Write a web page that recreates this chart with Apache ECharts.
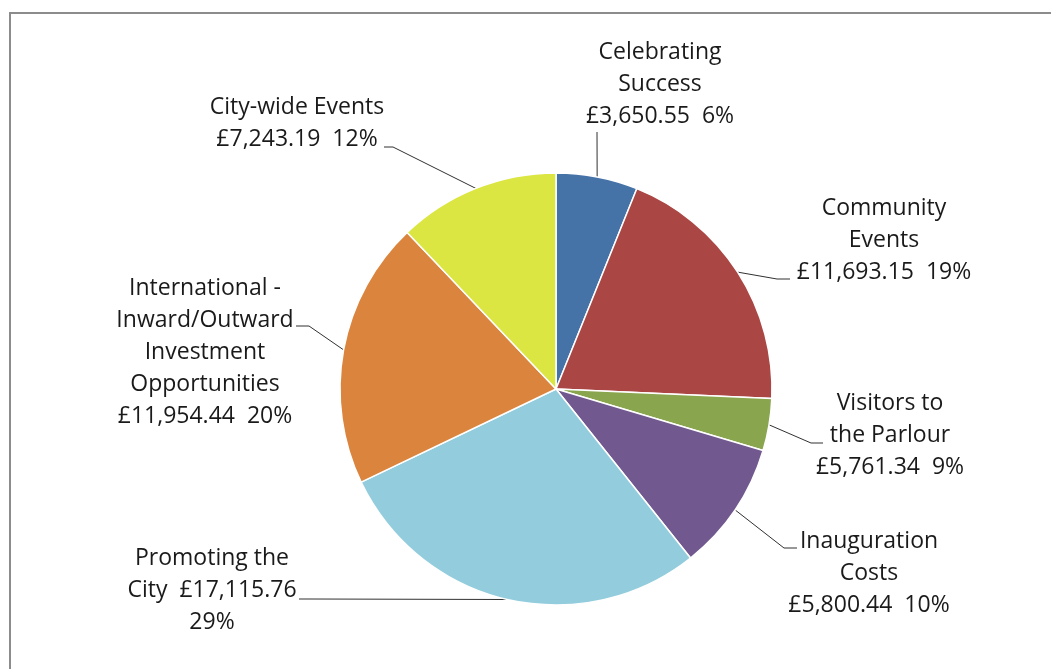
<!DOCTYPE html>
<html>
<head>
<meta charset="utf-8">
<script src="https://cdn.jsdelivr.net/npm/echarts@6/dist/echarts.min.js"></script>
<style>
  html, body { margin: 0; padding: 0; background: #fff; overflow: hidden; }
  #frame {
    position: absolute; left: 9px; top: 12px; width: 1200px; height: 800px;
    border-left: 2px solid #8c8c8c; border-top: 2px solid #8c8c8c;
  }
  #main { position: absolute; left: 0; top: 0; width: 1051px; height: 669px; }
</style>
</head>
<body>
<div id="frame"></div>
<div id="main"></div>
<script>
// label text pieces, in slice order (clockwise from 12 o'clock)
const labelNames = ['Celebrating\nSuccess', 'Community\nEvents', 'Visitors to\nthe Parlour',
  'Inauguration\nCosts', 'Promoting the\nCity', 'International -\nInward/Outward\nInvestment\nOpportunities',
  'City-wide Events'];
const amounts = [3650.55, 11693.15, 5761.34, 5800.44, 17115.76, 11954.44, 7243.19];
const percents = [6, 19, 9, 10, 29, 20, 12];
// slice sizes as drawn (share of the circle, %)
const sliceShares = [6.1, 19.6, 3.9, 9.7, 28.6, 20.0, 12.1];
const colors = ['#4572A7', '#AA4643', '#89A54E', '#71588F', '#93CDDD', '#DB843D', '#DCE642'];

// where each label block sits (centre), Excel style
const labelPos = [[660, 84], [884, 240], [890, 435], [869, 573], [212, 590], [205, 352], [297, 123]];
// where each leader line meets its label: [x, y, elbow offset in x]
const leaderEnds = [[597, 132, 0], [790, 279, -13], [823, 443, -12], [797, 548, -13],
  [299, 599, 12], [296, 326, 13], [384, 147, 9]];

function money(v) {
  return '£' + v.toLocaleString('en-GB', { minimumFractionDigits: 2, maximumFractionDigits: 2 });
}

function labelText(i) {
  const a = money(amounts[i]), p = percents[i] + '%';
  if (i === 4) return labelNames[i] + '  ' + a + '\n' + p;   // "City  £17,115.76" then "29%"
  return labelNames[i] + '\n' + a + '  ' + p;
}

const chart = echarts.init(document.getElementById('main'));
chart.setOption({
  animation: false,
  series: [{
    type: 'pie',
    center: [556, 389],
    radius: 216,
    startAngle: 90,
    clockwise: true,
    avoidLabelOverlap: false,
    itemStyle: { borderColor: '#fff', borderWidth: 1.5 },
    label: {
      show: true,
      color: '#1a1a1a',
      fontFamily: '"Open Sans", sans-serif',
      fontSize: 23,
      lineHeight: 32,
      align: 'center',
      formatter: p => labelText(p.dataIndex)
    },
    labelLine: {
      show: true,
      length: 20,
      length2: 12,
      lineStyle: { color: '#303030', width: 1 }
    },
    labelLayout: p => {
      const i = p.dataIndex;
      const out = {
        x: labelPos[i][0],
        y: labelPos[i][1],
        align: 'center',
        verticalAlign: 'middle',
        moveOverlap: false
      };
      // start of the line = slice edge at mid angle (from the pie layout)
      if (p.labelLinePoints && p.labelLinePoints.length) {
        const s = p.labelLinePoints[0];
        const e = leaderEnds[i];
        out.labelLinePoints = [[s[0], s[1]], [e[0] + e[2], e[1]], [e[0], e[1]]];
      }
      return out;
    },
    emphasis: { disabled: true },
    data: sliceShares.map((v, i) => ({
      value: v,
      name: labelNames[i],
      itemStyle: { color: colors[i] }
    }))
  }]
});
</script>
</body>
</html>
